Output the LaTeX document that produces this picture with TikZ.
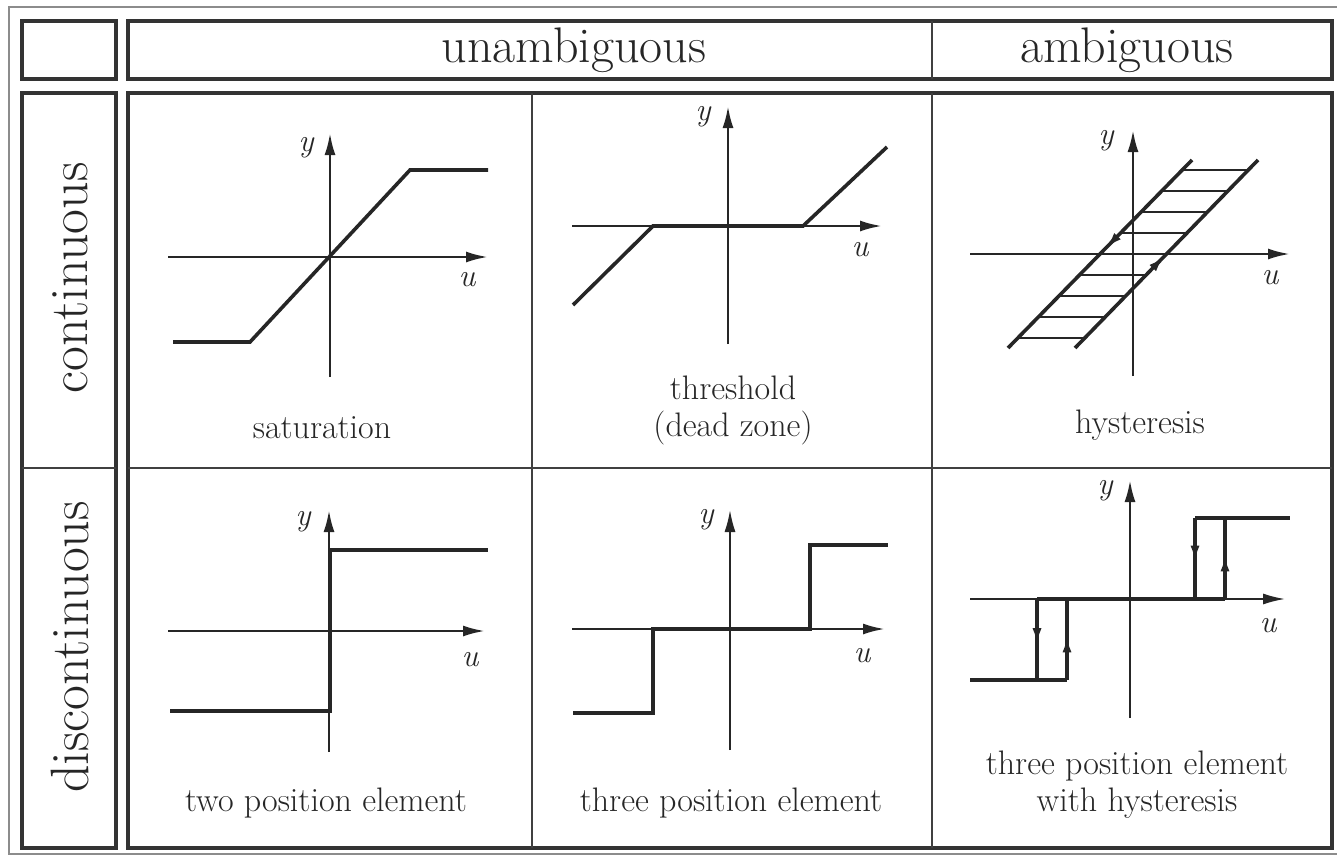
\documentclass[tikz,border=0pt]{standalone}
\usetikzlibrary{arrows.meta,decorations.markings}
\begin{document}
\begin{tikzpicture}[x=1pt, y=-1pt,
  frame/.style={draw=black!80, line width=3.2pt},
  rule/.style={draw=black!75, line width=1.8pt},
  axis/.style={draw=black!85, line width=2.6pt, -{Latex[length=22pt,width=11pt]}},
  curve/.style={draw=black!85, line width=3.6pt},
  bold/.style={draw=black!85, line width=4.4pt},
  hatch/.style={draw=black!85, line width=2pt},
  lbl/.style={font=\fontsize{34}{37}\selectfont, text=black!85, align=center},
  ax/.style={font=\fontsize{32}{32}\selectfont\itshape, text=black!85},
  head/.style={font=\fontsize{50}{50}\selectfont, text=black!85},
  side/.style={font=\fontsize{54}{54}\selectfont, text=black!85, rotate=90},
  mid/.style={postaction={decorate}, decoration={markings,
    mark=at position #1 with {\arrow{Latex[length=17pt,width=9pt]}}}}]
  \useasboundingbox (0,0) rectangle (1337,857);
  % outer frame and table
  \draw[draw=black!45, line width=1.5pt] (1345,7) -- (9,7) -- (9,854) -- (1345,854);
  \draw[frame] (22,21) rectangle (116,79);
  \draw[frame] (128,21) rectangle (1332,79);
  \draw[rule] (932,21) -- (932,79);
  \draw[frame] (22,93) rectangle (116,848);
  \draw[frame] (128,93) rectangle (1332,848);
  \draw[rule] (22,468) -- (116,468);
  \draw[rule] (128,468) -- (1332,468);
  \draw[rule] (532,93) -- (532,848);
  \draw[rule, line width=2.6pt] (932,93) -- (932,848);
  \node[head] (unamb) at (574,50) {unambiguous};
  \node[head] (amb) at (1127,50) {ambiguous};
  \node[side] (cont) at (70,278) {continuous};
  \node[side] (disc) at (70,647) {discontinuous};

  % saturation
  \draw[axis] (168,257) -- (488,257);
  \draw[axis] (330,377) -- (330,133);
  \node[ax] (y1) at (306,148) {y};
  \node[ax] (u1) at (467,280) {u};
  \draw[curve] (173,342) -- (250,342) -- (410,170) -- (488,170);
  \node[lbl] (sat) at (322,428) {saturation};

  % threshold
  \draw[axis] (572,226) -- (882,226);
  \draw[axis] (728,344) -- (728,106);
  \node[ax] (y2) at (703,117) {y};
  \node[ax] (u2) at (860,250) {u};
  \draw[curve] (573,305) -- (653,226) -- (803,226) -- (887,147);
  \node[lbl] (thr) at (733,410) {threshold\\(dead zone)};

  % hysteresis
  \draw[axis] (970,254) -- (1290,254);
  \draw[axis] (1133,376) -- (1133,130);
  \node[ax] (y3) at (1106,141) {y};
  \node[ax] (u3) at (1270,278) {u};
  \foreach \k in {-4,-3,-2,-1,1,2,3,4}
    \draw[hatch] ({1100-21*\k*0.979},{254+21*\k}) -- ++(67,0);
  \draw[curve, mid=0.47] (1192,160) -- (1008,348);
  \draw[curve, mid=0.49] (1075,348) -- (1258,160);
  \node[lbl] (hys) at (1140,425) {hysteresis};

  % two position element
  \draw[axis] (168,631) -- (485,631);
  \draw[axis] (329,752) -- (329,510);
  \node[ax] (y4) at (303,522) {y};
  \node[ax] (u4) at (470,660) {u};
  \draw[bold] (170,711) -- (330,711) -- (330,550) -- (488,550);
  \node[lbl] (two) at (326,803) {two position element};

  % three position element
  \draw[axis] (572,629) -- (885,629);
  \draw[axis, line width=1.8pt] (730,750) -- (730,510);
  \node[ax] (y5) at (706,520) {y};
  \node[ax] (u5) at (862,656) {u};
  \draw[bold] (573,713) -- (653,713) -- (653,629) -- (810,629) -- (810,545) -- (888,545);
  \node[lbl] (three) at (731,803) {three position element};

  % three position element with hysteresis
  \draw[axis, line width=1.8pt] (970,599) -- (1285,599);
  \draw[axis] (1130,718) -- (1130,480);
  \node[ax] (y6) at (1105,491) {y};
  \node[ax] (u6) at (1268,626) {u};
  \draw[bold] (970,680) -- (1067,680);
  \draw[bold, mid=0.57] (1037,599) -- (1037,680);
  \draw[bold, mid=0.55] (1067,680) -- (1067,599);
  \draw[bold] (1037,599) -- (1225,599);
  \draw[bold, mid=0.55] (1195,518) -- (1195,599);
  \draw[bold, mid=0.55] (1225,599) -- (1225,518);
  \draw[bold] (1195,518) -- (1290,518);
  \node[lbl] (threeh) at (1137,785) {three position element\\with hysteresis};
\end{tikzpicture}
\end{document}
